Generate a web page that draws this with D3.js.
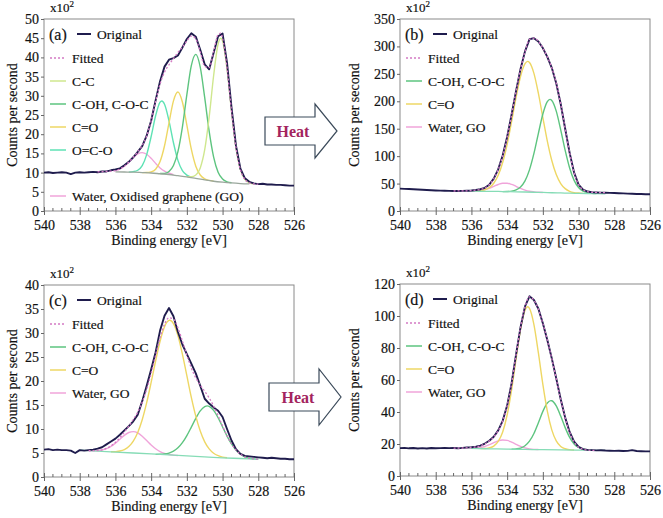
<!DOCTYPE html>
<html><head><meta charset="utf-8">
<script src="https://cdn.jsdelivr.net/npm/d3@7"></script>
<style>body{margin:0;background:#fff;} svg{display:block;} svg text{font-family:'Liberation Serif','Times New Roman',Times,serif;}
svg text.ink{stroke:#111;stroke-width:0.18px;}</style>
</head><body><svg id="c" width="663" height="518"></svg>
<script>
// ---------------- DATA ----------------
const xTickLabels = [540, 538, 536, 534, 532, 530, 528, 526];
const yTicksA = [0, 5, 10, 15, 20, 25, 30, 35, 40, 45, 50];
const yTicksB = [0, 50, 100, 150, 200, 250, 300, 350];
const yTicksC = [0, 5, 10, 15, 20, 25, 30, 35, 40];
const yTicksD = [0, 20, 40, 60, 80, 100, 120];

// Panel (a) — [binding energy eV, counts x10^2]
const originalA = [[540,10.0],[539.75,10.1],[539.5,9.9],[539.25,10.0],[539,10.1],[538.75,10.0],[538.5,9.6],[538.25,10.0],[538,10.1],[537.75,10.0],[537.5,10.1],[537.25,10.2],[537,10.1],[536.75,10.3],[536.5,10.3],[536.25,10.6],[536,10.8],[535.75,11.1],[535.5,11.9],[535.25,12.8],[535,14.0],[534.75,15.4],[534.5,16.9],[534.25,19.6],[534,23.5],[533.75,28.8],[533.5,33.8],[533.25,37.6],[533,39.4],[532.75,39.8],[532.5,40.5],[532.25,42.6],[532,44.8],[531.75,46.3],[531.5,45.4],[531.25,42.0],[531,38.2],[530.75,36.9],[530.5,41.2],[530.25,45.5],[530,46.2],[529.75,38.6],[529.5,27.0],[529.25,17.0],[529,11.0],[528.75,8.5],[528.5,7.6],[528.25,7.2],[528,7.0],[527.75,7.1],[527.5,6.9],[527.25,6.9],[527,6.8],[526.75,6.8],[526.5,6.7],[526.25,6.6],[526,6.6]];
const fittedA = [[537,10.2],[536.5,10.3],[536,10.53],[535.75,10.96],[535.5,11.68],[535.25,12.75],[535,14.06],[534.75,15.44],[534.5,17.04],[534.25,19.56],[534,23.5],[533.75,28.53],[533.5,33.08],[533.25,36.16],[533,38.08],[532.75,39.72],[532.5,41.3],[532.25,42.69],[532,44.27],[531.75,45.56],[531.5,44.84],[531.25,41.46],[531,37.65],[530.75,37.37],[530.5,41.55],[530.25,45.97],[530.1,46.3],[530,45.05],[529.75,37.2],[529.5,26.08],[529.25,16.53],[529,10.78],[528.75,8.22],[528.5,7.32],[528.25,7.05],[528,7.0]];
const bgA = [[536,10.2],[535.5,10.15],[535,10.1],[534.5,10.0],[534,9.9],[533.5,9.7],[533,9.5],[532.5,9.2],[532,8.9],[531.5,8.5],[531,8.1],[530.5,7.75],[530,7.5],[529.5,7.3],[529,7.15],[528.5,7.05]];
const ccA = [[532,8.95],[531.75,8.9],[531.5,9.36],[531.25,11.22],[531,15.96],[530.75,24.49],[530.5,35.28],[530.25,43.48],[530.1,45.0],[530,44.24],[529.75,36.99],[529.5,26.03],[529.25,16.53],[529,10.78],[528.75,8.22],[528.5,7.32],[528.25,7.05]];
const cohA = [[533.5,9.75],[533.25,9.81],[533,10.31],[532.75,11.84],[532.5,15.47],[532.25,21.87],[532,30.31],[531.75,37.87],[531.5,40.8],[531.25,37.47],[531,29.51],[530.75,20.72],[530.5,14.02],[530.25,10.09],[530,8.31],[529.75,7.61],[529.5,7.35]];
const coA = [[534.5,10.0],[534.25,10.01],[534,10.18],[533.75,10.87],[533.5,12.88],[533.25,16.99],[533,22.97],[532.75,28.69],[532.5,31.0],[532.25,28.39],[532,22.37],[531.75,16.09],[531.5,11.68],[531.25,9.37],[531,8.38],[530.75,7.96],[530.5,7.78]];
const ocoA = [[535.25,10.12],[535,10.24],[534.75,10.62],[534.5,11.84],[534.25,14.68],[534,19.4],[533.75,24.81],[533.5,28.34],[533.4,28.66],[533.25,27.8],[533,23.47],[532.75,17.77],[532.5,13.19],[532.25,10.53],[532,9.34],[531.75,8.8]];
const waterA = [[536,10.53],[535.75,10.96],[535.5,11.66],[535.25,12.7],[535,13.92],[534.75,14.87],[534.5,15.2],[534.25,14.77],[534,13.72],[533.75,12.4],[533.5,11.21],[533.25,10.36],[533,9.83],[532.75,9.47]];

// Panel (b)
const originalB = [[540,40.8],[539.75,40.4],[539.5,40.1],[539.25,39.6],[539,39.2],[538.75,38.7],[538.5,38.3],[538.25,37.9],[538,37.5],[537.75,37.2],[537.5,36.9],[537.25,36.6],[537,36.5],[536.75,36.4],[536.5,36.6],[536.25,36.9],[536,37.3],[535.75,38.2],[535.5,39.6],[535.25,42.2],[535,48.0],[534.75,59.0],[534.5,76.0],[534.25,101.0],[534,135.0],[533.75,176.0],[533.5,219.0],[533.25,259.0],[533,291.0],[532.75,313.0],[532.5,315.0],[532.25,309.0],[532,297.0],[531.75,281.0],[531.5,261.0],[531.25,233.0],[531,195.0],[530.75,150.0],[530.5,106.0],[530.25,70.0],[530,48.0],[529.75,39.0],[529.5,35.5],[529.25,34.2],[529,33.8],[528.75,33.5],[528.5,33.3],[528.25,33.0],[528,32.8],[527.75,32.4],[527.5,32.1],[527.25,31.7],[527,31.4],[526.75,31.1],[526.5,30.9],[526.25,30.6],[526,30.4]];
const fittedB = [[537,36.5],[536.5,36.6],[536,37.2],[535.75,38.0],[535.5,39.4],[535.25,42.0],[535,47.8],[534.75,58.8],[534.5,75.8],[534.25,100.5],[534,134.5],[533.75,175.5],[533.5,218.5],[533.25,258.5],[533,290.5],[532.75,312.5],[532.5,315.0],[532.25,309.0],[532,297.0],[531.75,281.0],[531.5,261.0],[531.25,233.0],[531,195.0],[530.75,150.0],[530.5,106.0],[530.25,70.0],[530,48.0],[529.75,39.0],[529.5,35.5],[529.25,34.2],[529,33.8],[528.5,33.3]];
const bgB = [[536.25,36.4],[536,36.3],[535.5,36.0],[535,35.8],[534.5,35.6],[534,35.3],[533.5,35.0],[533,34.6],[532.5,34.2],[532,33.8],[531.5,33.3],[531,32.9],[530.5,32.5],[530,32.2],[529.5,31.9],[529,31.6],[528.5,31.4]];
const cohB = [[534.25,35.4],[534,35.6],[533.75,36.2],[533.5,38.4],[533.25,43.7],[533,54.9],[532.75,75.0],[532.5,104.9],[532.25,141.6],[532,176.8],[531.75,199.4],[531.6,203.4],[531.5,201.5],[531.25,182.0],[531,148.0],[530.75,110.4],[530.5,78.4],[530.25,55.9],[530,42.8],[529.75,36.2],[529.5,33.3],[529.25,32.1],[529,31.6]];
const coB = [[535.75,36.7],[535.5,37.1],[535.25,38.8],[535,42.6],[534.75,50.6],[534.5,65.0],[534.25,88.3],[534,121.5],[533.75,162.9],[533.5,207.1],[533.25,245.2],[533,268.5],[532.85,272.8],[532.75,270.6],[532.5,250.8],[532.25,214.4],[532,170.4],[531.75,127.5],[531.5,92.1],[531.25,66.4],[531,50.1],[530.75,40.8],[530.5,35.9],[530.25,33.6],[530,32.7],[529.75,32.1]];
const waterB = [[536.25,36.4],[536,36.5],[535.75,36.7],[535.5,37.4],[535.25,38.9],[535,41.5],[534.75,44.9],[534.5,48.3],[534.25,50.5],[534,50.6],[533.75,48.4],[533.5,45.0],[533.25,41.2],[533,38.1],[532.75,36.0],[532.5,34.9],[532.25,34.2],[532,33.8]];

// Panel (c)
const originalC = [[540,5.7],[539.75,5.8],[539.5,5.6],[539.25,5.7],[539,5.6],[538.75,5.6],[538.5,5.5],[538.25,5.0],[538,5.6],[537.75,5.5],[537.5,5.6],[537.25,5.7],[537,5.9],[536.75,6.2],[536.5,6.8],[536.25,7.4],[536,8.0],[535.75,8.8],[535.5,9.7],[535.25,10.6],[535,11.6],[534.75,13.0],[534.5,15.8],[534.25,19.0],[534,22.4],[533.75,26.0],[533.5,30.5],[533.25,33.6],[533,35.2],[532.75,33.5],[532.5,30.2],[532.25,27.6],[532,25.6],[531.75,23.6],[531.5,21.6],[531.25,19.0],[531,16.3],[530.75,15.3],[530.5,14.5],[530.25,13.8],[530,12.5],[529.75,10.0],[529.5,7.6],[529.25,5.8],[529,4.8],[528.75,4.4],[528.5,4.3],[528.25,4.2],[528,4.1],[527.75,4.0],[527.5,3.9],[527.25,4.0],[527,3.9],[526.75,3.8],[526.5,3.8],[526.25,3.7],[526,3.7]];
const fittedC = [[537.5,5.47],[537,5.5],[536.75,5.66],[536.5,5.97],[536.25,6.47],[536,7.2],[535.75,8.19],[535.5,9.35],[535.25,10.62],[535,11.98],[534.75,13.55],[534.5,15.56],[534.25,18.26],[534,21.61],[533.75,25.36],[533.5,29.02],[533.25,31.83],[533,33.19],[532.75,32.89],[532.5,31.09],[532.25,28.35],[532,25.38],[531.75,22.7],[531.5,20.66],[531.25,19.15],[531,17.86],[530.75,16.48],[530.5,14.78],[530.25,12.78],[530,10.62],[529.75,8.6],[529.5,6.88],[529.25,5.62],[529,4.75],[528.75,4.2],[528.5,3.9],[528.25,3.78],[528,3.72]];
const bgC = [[538,5.6],[537,5.4],[536,5.2],[535,5.0],[534,4.8],[533,4.6],[532,4.4],[531,4.2],[530,4.0],[529,3.85],[528,3.7]];
const cohC = [[533.75,4.72],[533.5,4.73],[533.25,4.8],[533,4.98],[532.75,5.38],[532.5,6.07],[532.25,7.15],[532,8.63],[531.75,10.4],[531.5,12.23],[531.25,13.78],[531,14.68],[530.85,14.82],[530.75,14.72],[530.5,13.88],[530.25,12.34],[530,10.43],[529.75,8.52],[529.5,6.88],[529.25,5.62],[529,4.75],[528.75,4.2],[528.5,3.9],[528.25,3.78],[528,3.72]];
const coC = [[536.25,5.25],[536,5.29],[535.75,5.41],[535.5,5.72],[535.25,6.35],[535,7.48],[534.75,9.28],[534.5,11.93],[534.25,15.48],[534,19.7],[533.75,24.17],[533.5,28.28],[533.25,31.3],[533,32.61],[532.95,32.65],[532.75,31.95],[532.5,29.45],[532.25,25.6],[532,21.1],[531.75,16.6],[531.5,12.68],[531.25,9.57],[531,7.33],[530.75,5.86],[530.5,4.95],[530.25,4.44],[530,4.14],[529.75,4.0]];
const waterC = [[537.5,5.47],[537.25,5.46],[537,5.55],[536.75,5.63],[536.5,5.91],[536.25,6.38],[536,7.06],[535.75,7.88],[535.5,8.68],[535.25,9.27],[535,9.45],[534.75,9.17],[534.5,8.48],[534.25,7.58],[534,6.66],[533.75,5.88],[533.5,5.31],[533.25,4.93],[533,4.7],[532.75,4.56],[532.5,4.47]];

// Panel (d)
const originalD = [[540,17.4],[539.75,17.6],[539.5,17.3],[539.25,17.5],[539,17.2],[538.75,17.4],[538.5,17.2],[538.25,17.5],[538,17.3],[537.75,17.4],[537.5,17.6],[537.25,17.4],[537,17.5],[536.75,17.3],[536.5,17.6],[536.25,17.8],[536,18.0],[535.75,18.3],[535.5,19.0],[535.25,20.3],[535,22.0],[534.75,24.5],[534.5,28.5],[534.25,34.5],[534,44.0],[533.75,58.0],[533.5,76.0],[533.25,93.0],[533,106.0],[532.75,112.3],[532.5,110.0],[532.25,104.5],[532,95.5],[531.75,85.0],[531.5,73.5],[531.25,61.0],[531,48.0],[530.75,36.5],[530.5,27.5],[530.25,21.5],[530,18.2],[529.75,16.8],[529.5,16.3],[529.25,16.2],[529,16.0],[528.75,16.1],[528.5,15.9],[528.25,15.8],[528,15.7],[527.75,15.8],[527.5,15.6],[527.25,15.7],[527,16.2],[526.75,15.6],[526.5,15.5],[526.25,15.4],[526,15.4]];
const fittedD = [[537,17.4],[536.5,17.5],[536,17.9],[535.75,18.2],[535.5,18.9],[535.25,20.2],[535,21.9],[534.75,24.4],[534.5,28.4],[534.25,34.4],[534,43.9],[533.75,57.9],[533.5,75.9],[533.25,92.9],[533,105.8],[532.75,112.0],[532.5,109.8],[532.25,104.3],[532,95.3],[531.75,84.8],[531.5,73.3],[531.25,60.8],[531,47.8],[530.75,36.3],[530.5,27.3],[530.25,21.3],[530,18.0],[529.75,16.7],[529.5,16.2],[529,16.0]];
const bgD = [[536,17.3],[535,17.0],[534,16.8],[533,16.6],[532,16.45],[531,16.3],[530,16.2],[529,16.05],[528.5,16.0]];
const cohD = [[533.75,16.8],[533.5,16.98],[533.25,17.46],[533,18.9],[532.75,21.77],[532.5,26.6],[532.25,33.29],[532,40.37],[531.75,45.63],[531.55,47.1],[531.5,47.01],[531.25,43.83],[531,37.45],[530.75,30.24],[530.5,24.14],[530.25,20.04],[530,17.8],[529.75,16.7],[529.5,16.28],[529.25,16.1]];
const coD = [[535.5,17.14],[535.25,17.18],[535,17.6],[534.75,18.68],[534.5,21.58],[534.25,27.5],[534,38.12],[533.75,53.81],[533.5,73.16],[533.25,91.62],[533,103.66],[532.85,105.77],[532.75,104.77],[532.5,94.64],[532.25,76.89],[532,57.21],[531.75,40.48],[531.5,28.8],[531.25,21.93],[531,18.49],[530.75,17.05],[530.5,16.47],[530.25,16.25]];
const waterD = [[536,17.4],[535.75,17.5],[535.5,17.81],[535.25,18.46],[535,19.59],[534.75,20.83],[534.5,22.0],[534.25,22.48],[534,22.23],[533.75,21.14],[533.5,19.82],[533.25,18.48],[533,17.57],[532.75,16.98],[532.5,16.66],[532.25,16.55]];

// ---------------- STYLE ----------------
const C = {
  original: '#1f1c4d', fitted: '#d47ac4', cc: '#cfe78e', coh: '#5dc47f',
  co: '#eed764', oco: '#5ee2b4', water: '#f0a4da', bgA: '#9aa79c', bg: '#86dcb6', frame: '#8a8a8a', tick: '#666'
};

const panels = [
  {tag:'(a)', left:44, top:19, width:250, height:192, yMax:50, yTicks:yTicksA, ytOff:32, bgColor:C.bgA,
   original:originalA, fitted:fittedA, bg:bgA,
   comps:[{d:waterA,c:C.water},{d:ocoA,c:C.oco},{d:coA,c:C.co},{d:cohA,c:C.coh},{d:ccA,c:C.cc}],
   legend:[{t:'Fitted',c:C.fitted,dash:true,slot:1},{t:'C-C',c:C.cc,slot:2},{t:'C-OH, C-O-C',c:C.coh,slot:3},{t:'C=O',c:C.co,slot:4},{t:'O=C-O',c:C.oco,slot:5},{t:'Water, Oxidised graphene (GO)',c:C.water,slot:7}]},
  {tag:'(b)', left:400, top:19, width:250, height:192, yMax:350, yTicks:yTicksB, ytOff:46, bgColor:C.bg,
   original:originalB, fitted:fittedB, bg:bgB,
   comps:[{d:waterB,c:C.water},{d:coB,c:C.co},{d:cohB,c:C.coh}],
   legend:[{t:'Fitted',c:C.fitted,dash:true,slot:1},{t:'C-OH, C-O-C',c:C.coh,slot:2},{t:'C=O',c:C.co,slot:3},{t:'Water, GO',c:C.water,slot:4}]},
  {tag:'(c)', left:44, top:285, width:250, height:192, yMax:40, yTicks:yTicksC, ytOff:32, bgColor:C.bg,
   original:originalC, fitted:fittedC, bg:bgC,
   comps:[{d:waterC,c:C.water},{d:cohC,c:C.coh},{d:coC,c:C.co}],
   legend:[{t:'Fitted',c:C.fitted,dash:true,slot:1},{t:'C-OH, C-O-C',c:C.coh,slot:2},{t:'C=O',c:C.co,slot:3},{t:'Water, GO',c:C.water,slot:4}]},
  {tag:'(d)', left:400, top:284, width:250, height:192, yMax:120, yTicks:yTicksD, ytOff:46, bgColor:C.bg,
   original:originalD, fitted:fittedD, bg:bgD,
   comps:[{d:waterD,c:C.water},{d:cohD,c:C.coh},{d:coD,c:C.co}],
   legend:[{t:'Fitted',c:C.fitted,dash:true,slot:1},{t:'C-OH, C-O-C',c:C.coh,slot:2},{t:'C=O',c:C.co,slot:3},{t:'Water, GO',c:C.water,slot:4}]}
];
const slotY = [15, 39, 62, 85, 108, 131, 154, 177];

const svg = d3.select('#c');
const defs = svg.append('defs');

panels.forEach((p, i) => {
  const g = svg.append('g');
  const x = d3.scaleLinear().domain([540, 526]).range([p.left, p.left + p.width]);
  const y = d3.scaleLinear().domain([0, p.yMax]).range([p.top + p.height, p.top]);
  const bottom = p.top + p.height;

  defs.append('clipPath').attr('id', 'clip' + i).append('rect')
    .attr('x', p.left).attr('y', p.top).attr('width', p.width).attr('height', p.height);

  g.append('rect').attr('x', p.left).attr('y', p.top).attr('width', p.width).attr('height', p.height)
    .attr('fill', 'none').attr('stroke', C.frame).attr('stroke-width', 1);

  const xa = g.append('g').attr('transform', `translate(0,${bottom})`)
    .call(d3.axisBottom(x).tickValues(xTickLabels).tickSizeInner(4).tickSizeOuter(0).tickPadding(5).tickFormat(d3.format('d')));
  xa.select('.domain').remove();
  xa.attr('font-size', 14);
  xa.selectAll('line').attr('stroke', C.tick).attr('y1', -4);
  xa.selectAll('text').attr('fill', '#111').attr('class', 'ink');
  g.append('g').selectAll('line').data(d3.range(540, 525.9, -0.5).filter(v => Math.abs(v % 2) > 0.01))
    .join('line').attr('x1', d => x(d)).attr('x2', d => x(d)).attr('y1', bottom).attr('y2', bottom - 3)
    .attr('stroke', C.tick);

  const ya = g.append('g').attr('transform', `translate(${p.left},0)`)
    .call(d3.axisLeft(y).tickValues(p.yTicks).tickSizeInner(3).tickSizeOuter(0).tickPadding(2));
  ya.select('.domain').remove();
  ya.attr('font-size', 14);
  ya.selectAll('line').attr('stroke', C.tick);
  ya.selectAll('text').attr('fill', '#111').attr('class', 'ink');

  g.append('text').attr('class', 'ink').attr('x', p.left + p.width / 2).attr('y', bottom + 34).attr('text-anchor', 'middle')
    .attr('font-size', 14).attr('fill', '#111').text('Binding energy [eV]');
  g.append('text').attr('class', 'ink').attr('transform', `translate(${p.left - p.ytOff},${p.top + p.height / 2}) rotate(-90)`)
    .attr('text-anchor', 'middle').attr('dy', '0.35em').attr('font-size', 14).attr('fill', '#111').text('Counts per second');
  const sc = g.append('text').attr('class', 'ink').attr('x', p.left + 6).attr('y', p.top - 7).attr('font-size', 13).attr('fill', '#111');
  sc.append('tspan').text('x10');
  sc.append('tspan').attr('dy', -5).attr('font-size', 9).text('2');

  const plot = g.append('g').attr('clip-path', `url(#clip${i})`);
  const smooth = d3.line().x(d => x(d[0])).y(d => y(d[1])).curve(d3.curveMonotoneX);
  const raw = d3.line().x(d => x(d[0])).y(d => y(d[1]));
  p.comps.forEach(cmp => {
    plot.append('path').attr('d', smooth(cmp.d)).attr('fill', 'none').attr('stroke', cmp.c).attr('stroke-width', 1.4);
  });
  plot.append('path').attr('d', smooth(p.bg)).attr('fill', 'none').attr('stroke', p.bgColor).attr('stroke-width', 1.3);
  plot.append('path').attr('d', raw(p.original)).attr('fill', 'none').attr('stroke', C.original)
    .attr('stroke-width', 1.9).attr('stroke-linejoin', 'round');
  plot.append('path').attr('d', smooth(p.fitted)).attr('fill', 'none').attr('stroke', C.fitted)
    .attr('stroke-width', 1.3).attr('stroke-dasharray', '2,2');

  const lg = g.append('g').attr('font-size', 13.5).attr('fill', '#111');
  const rowY0 = p.top + slotY[0];
  lg.append('text').attr('class', 'ink').attr('x', p.left + 5).attr('y', rowY0).attr('dy', '0.35em').attr('font-size', 16).text(p.tag);
  lg.append('line').attr('x1', p.left + 33).attr('x2', p.left + 47).attr('y1', rowY0).attr('y2', rowY0)
    .attr('stroke', C.original).attr('stroke-width', 2);
  lg.append('text').attr('class', 'ink').attr('x', p.left + 53).attr('y', rowY0).attr('dy', '0.35em').text('Original');
  p.legend.forEach(e => {
    const yy = p.top + slotY[e.slot];
    lg.append('line').attr('x1', p.left + 6).attr('x2', p.left + 22).attr('y1', yy).attr('y2', yy)
      .attr('stroke', e.c).attr('stroke-width', 1.5).attr('stroke-dasharray', e.dash ? '2,2' : null);
    lg.append('text').attr('class', 'ink').attr('x', p.left + 28).attr('y', yy).attr('dy', '0.35em').text(e.t);
  });
});

const arrows = [
  {x0:265, x1:315, tip:337, yc:131, body:14, head:27, tx:293},
  {x0:269, x1:319, tip:341, yc:397, body:14, head:28, tx:298}
];
arrows.forEach(a => {
  const pts = [[a.x0, a.yc - a.body], [a.x1, a.yc - a.body], [a.x1, a.yc - a.head], [a.tip, a.yc],
               [a.x1, a.yc + a.head], [a.x1, a.yc + a.body], [a.x0, a.yc + a.body]];
  svg.append('path').attr('d', d3.line()(pts) + 'Z').attr('fill', '#fff').attr('stroke', '#3b4a5a').attr('stroke-width', 1.2);
  svg.append('text').attr('x', a.tx).attr('y', a.yc).attr('dy', '0.35em').attr('text-anchor', 'middle')
    .attr('font-size', 16).attr('font-weight', 'bold').attr('fill', '#a3245e').text('Heat');
});
</script></body></html>
